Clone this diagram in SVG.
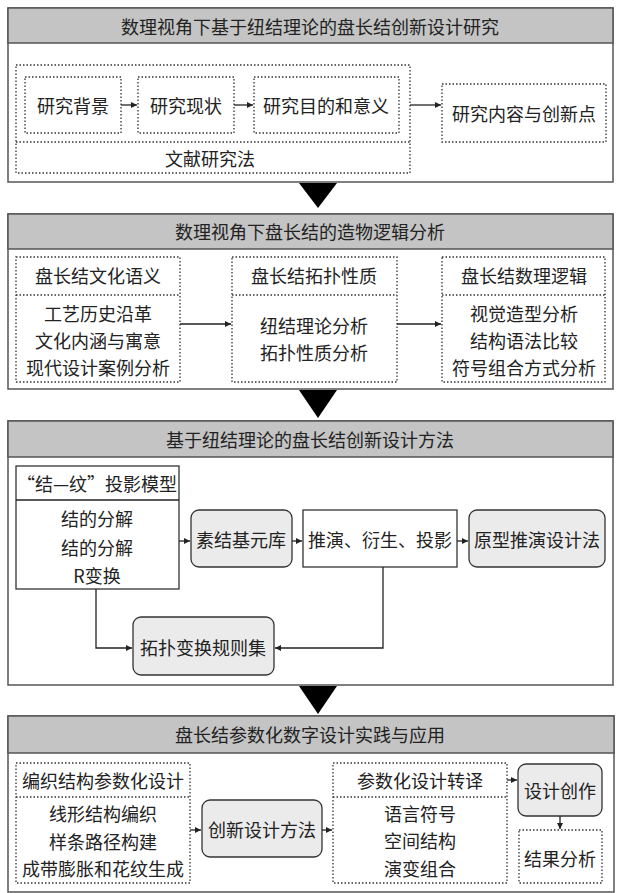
<svg xmlns="http://www.w3.org/2000/svg" width="618" height="893" viewBox="0 0 618 893">
<defs>
<marker id="ah" markerWidth="8" markerHeight="8" refX="6" refY="3" orient="auto" markerUnits="userSpaceOnUse">
<path d="M0,0 L6,3 L0,6 z" fill="#222"/>
</marker>
<style>
text{font-family:"Noto Sans CJK SC","Noto Sans",sans-serif;font-size:18px;fill:#222;text-anchor:middle;dominant-baseline:central}
.sec{fill:#fff;stroke:#555;stroke-width:1.5}
.hdr{fill:#c4c4c4;stroke:#555;stroke-width:1.5}
.dot{fill:none;stroke:#333;stroke-width:1.3;stroke-dasharray:1.5 2}
.sol{fill:#fff;stroke:#333;stroke-width:1.3}
.rnd{fill:#ebebeb;stroke:#333;stroke-width:1.3}
.ln{fill:none;stroke:#222;stroke-width:1.3}
.tri{fill:#000}
</style>
</defs>

<!-- Section 1 -->
<g id="sec1">
<rect class="sec" x="8" y="8" width="605" height="174"/>
<rect class="hdr" x="8" y="8" width="605" height="35"/>
<text x="310" y="26">数理视角下基于纽结理论的盘长结创新设计研究</text>
</g>
<g id="grp1">
<rect class="dot" x="16" y="65" width="394" height="108"/>
<line class="dot" x1="16" y1="142" x2="410" y2="142"/>
<text x="210" y="158">文献研究法</text>
</g>
<g id="n_bg"><rect class="dot" x="25" y="77" width="96" height="56"/><text x="73" y="105">研究背景</text></g>
<g id="n_xz"><rect class="dot" x="138" y="77" width="96" height="56"/><text x="186" y="105">研究现状</text></g>
<g id="n_md"><rect class="dot" x="254" y="77" width="145" height="56"/><text x="326" y="105">研究目的和意义</text></g>
<g id="n_nr"><rect class="dot" x="442" y="84" width="164" height="58"/><text x="524" y="113">研究内容与创新点</text></g>

<!-- Section 2 -->
<g id="sec2">
<rect class="sec" x="8" y="214" width="605" height="175"/>
<rect class="hdr" x="8" y="214" width="605" height="35"/>
<text x="310" y="231">数理视角下盘长结的造物逻辑分析</text>
</g>
<g id="n_wh">
<rect class="dot" x="16" y="257" width="164" height="125"/>
<line class="dot" x1="16" y1="295" x2="180" y2="295"/>
<text x="98" y="275">盘长结文化语义</text>
<text x="98" y="313">工艺历史沿革</text>
<text x="98" y="340">文化内涵与寓意</text>
<text x="98" y="367">现代设计案例分析</text>
</g>
<g id="n_tp">
<rect class="dot" x="232" y="257" width="165" height="125"/>
<line class="dot" x1="232" y1="295" x2="397" y2="295"/>
<text x="314" y="275">盘长结拓扑性质</text>
<text x="314" y="325">纽结理论分析</text>
<text x="314" y="352">拓扑性质分析</text>
</g>
<g id="n_sl">
<rect class="dot" x="442" y="257" width="163" height="125"/>
<line class="dot" x1="442" y1="295" x2="605" y2="295"/>
<text x="524" y="275">盘长结数理逻辑</text>
<text x="524" y="313">视觉造型分析</text>
<text x="524" y="340">结构语法比较</text>
<text x="524" y="367">符号组合方式分析</text>
</g>

<!-- Section 3 -->
<g id="sec3">
<rect class="sec" x="8" y="421" width="605" height="264"/>
<rect class="hdr" x="8" y="421" width="605" height="36"/>
<text x="310" y="439">基于纽结理论的盘长结创新设计方法</text>
</g>
<g id="n_ty">
<rect class="sol" x="16" y="466" width="163" height="123"/>
<line class="ln" x1="16" y1="500" x2="179" y2="500"/>
<text x="97" y="483">“结—纹”投影模型</text>
<text x="97" y="518">结的分解</text>
<text x="97" y="547">结的分解</text>
<text x="97" y="575">R变换</text>
</g>
<g id="n_sj"><rect class="rnd" x="191" y="510" width="101" height="57" rx="8"/><text x="241" y="539">素结基元库</text></g>
<g id="n_ty2"><rect class="sol" x="303" y="510" width="154" height="57"/><text x="380" y="539">推演、衍生、投影</text></g>
<g id="n_yx"><rect class="rnd" x="469" y="510" width="136" height="57" rx="8"/><text x="537" y="539">原型推演设计法</text></g>
<g id="n_gz"><rect class="rnd" x="133" y="617" width="141" height="58" rx="8"/><text x="203" y="647">拓扑变换规则集</text></g>

<!-- Section 4 -->
<g id="sec4">
<rect class="sec" x="8" y="716" width="606" height="176"/>
<rect class="hdr" x="8" y="716" width="606" height="37"/>
<text x="310" y="734">盘长结参数化数字设计实践与应用</text>
</g>
<g id="n_bz">
<rect class="dot" x="16" y="763" width="174" height="120"/>
<line class="dot" x1="16" y1="797" x2="190" y2="797"/>
<text x="103" y="780">编织结构参数化设计</text>
<text x="103" y="813">线形结构编织</text>
<text x="103" y="841">样条路径构建</text>
<text x="103" y="868">成带膨胀和花纹生成</text>
</g>
<g id="n_cx"><rect class="rnd" x="202" y="800" width="120" height="57" rx="8"/><text x="262" y="829">创新设计方法</text></g>
<g id="n_zy">
<rect class="dot" x="333" y="763" width="174" height="120"/>
<line class="dot" x1="333" y1="797" x2="507" y2="797"/>
<text x="420" y="780">参数化设计转译</text>
<text x="420" y="813">语言符号</text>
<text x="420" y="840">空间结构</text>
<text x="420" y="868">演变组合</text>
</g>
<g id="n_cz"><rect class="rnd" x="518" y="764" width="84" height="52" rx="8"/><text x="560" y="790">设计创作</text></g>
<g id="n_jg"><rect class="dot" x="519" y="830" width="83" height="53"/><text x="560" y="858">结果分析</text></g>

<!-- Connectors -->
<g id="connectors">
<line class="ln" x1="121" y1="105" x2="137" y2="105" marker-end="url(#ah)"/>
<line class="ln" x1="234" y1="105" x2="253" y2="105" marker-end="url(#ah)"/>
<line class="ln" x1="410" y1="105" x2="441" y2="105" marker-end="url(#ah)"/>
<line class="ln" x1="180" y1="324" x2="231" y2="324" marker-end="url(#ah)"/>
<line class="ln" x1="397" y1="324" x2="441" y2="324" marker-end="url(#ah)"/>
<line class="ln" x1="179" y1="541" x2="190" y2="541" marker-end="url(#ah)"/>
<line class="ln" x1="292" y1="541" x2="302" y2="541" marker-end="url(#ah)"/>
<line class="ln" x1="457" y1="541" x2="468" y2="541" marker-end="url(#ah)"/>
<polyline class="ln" points="96,589 96,648 132,648" marker-end="url(#ah)"/>
<polyline class="ln" points="383,567 383,648 275,648" marker-end="url(#ah)"/>
<line class="ln" x1="190" y1="830" x2="201" y2="830" marker-end="url(#ah)"/>
<line class="ln" x1="322" y1="830" x2="332" y2="830" marker-end="url(#ah)"/>
<line class="ln" x1="507" y1="780" x2="517" y2="780" marker-end="url(#ah)"/>
<line class="ln" x1="560" y1="816" x2="560" y2="829" marker-end="url(#ah)"/>
<polygon class="tri" points="299,183 337,183 318,208"/>
<polygon class="tri" points="299,390 337,390 318,418"/>
<polygon class="tri" points="299,686 337,686 318,714"/>
</g>
</svg>
